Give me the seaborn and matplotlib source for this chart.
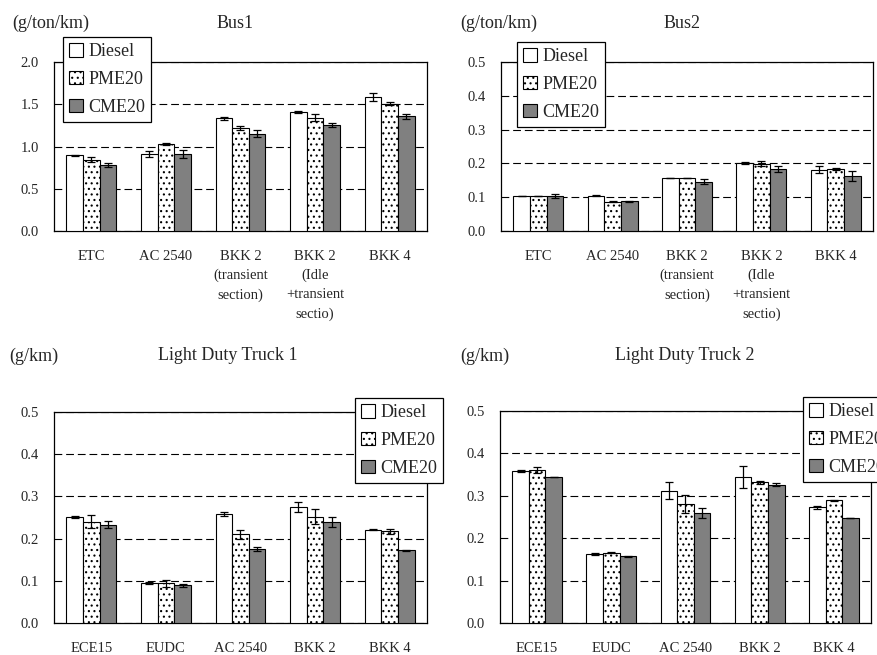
import numpy as np
import pandas as pd
import matplotlib
matplotlib.use("Agg")
import matplotlib.pyplot as plt
import seaborn as sns

sns.set_style("white")
plt.rcParams['font.family'] = ['Liberation Serif', 'DejaVu Serif']
plt.rcParams['hatch.linewidth'] = 0.8

fuels = ["Diesel", "PME20", "CME20"]
fuel_colors = ["#ffffff", "#ffffff", "#808080"]

bus_cycles = ["ETC", "AC 2540", "BKK 2\n(transient\nsection)",
              "BKK 2\n(Idle\n+transient\nsectio)", "BKK 4"]
ldt_cycles = ["ECE15", "EUDC", "AC 2540", "BKK 2", "BKK 4"]

# Bus1 (g/ton/km)
bus1_diesel = [0.895, 0.91, 1.333, 1.408, 1.586]
bus1_pme = [0.845, 1.03, 1.223, 1.341, 1.507]
bus1_cme = [0.785, 0.91, 1.152, 1.250, 1.357]
bus1_diesel_err = [0.006, 0.04, 0.015, 0.015, 0.05]
bus1_pme_err = [0.03, 0.01, 0.025, 0.04, 0.015]
bus1_cme_err = [0.025, 0.05, 0.04, 0.025, 0.03]

# Bus2 (g/ton/km)
bus2_diesel = [0.1035, 0.1045, 0.157, 0.201, 0.181]
bus2_pme = [0.1035, 0.087, 0.157, 0.199, 0.183]
bus2_cme = [0.1045, 0.088, 0.146, 0.184, 0.163]
bus2_diesel_err = [0.001, 0.002, 0.0005, 0.004, 0.010]
bus2_pme_err = [0.001, 0.001, 0.001, 0.008, 0.003]
bus2_cme_err = [0.006, 0.002, 0.008, 0.008, 0.015]

# Light Duty Truck 1 (g/km)
ldt1_diesel = [0.252, 0.095, 0.259, 0.275, 0.221]
ldt1_pme = [0.240, 0.094, 0.210, 0.252, 0.217]
ldt1_cme = [0.233, 0.089, 0.175, 0.240, 0.172]
ldt1_diesel_err = [0.002, 0.003, 0.005, 0.012, 0.001]
ldt1_pme_err = [0.015, 0.008, 0.011, 0.018, 0.005]
ldt1_cme_err = [0.009, 0.004, 0.004, 0.012, 0.002]

# Light Duty Truck 2 (g/km)
ldt2_diesel = [0.359, 0.163, 0.312, 0.344, 0.273]
ldt2_pme = [0.361, 0.166, 0.281, 0.332, 0.289]
ldt2_cme = [0.344, 0.157, 0.260, 0.326, 0.248]
ldt2_diesel_err = [0.003, 0.003, 0.020, 0.026, 0.004]
ldt2_pme_err = [0.008, 0.001, 0.022, 0.003, 0.001]
ldt2_cme_err = [0.0005, 0.001, 0.012, 0.004, 0.0005]

W, H = 878, 655
fig = plt.figure(figsize=(W / 100, H / 100), dpi=100)


def rect(l, t, r, b):
    return [l / W, 1 - b / H, (r - l) / W, (b - t) / H]


def panel(box, cycles, vals, errs, ymax, ystep, title, unit, title_xy, unit_xy, leg_xy):
    ax = fig.add_axes(rect(*box))
    df = pd.DataFrame({
        "cycle": np.tile(cycles, 3),
        "fuel": np.repeat(fuels, len(cycles)),
        "value": np.concatenate(vals),
    })
    sns.barplot(data=df, x="cycle", y="value", hue="fuel", order=cycles,
                hue_order=fuels, palette=fuel_colors, edgecolor="black",
                linewidth=0.8, errorbar=None, width=0.67, gap=0, ax=ax,
                legend=False, zorder=3)
    for bar in ax.containers[1]:
        bar.set_hatch("...")
    for cont, err in zip(ax.containers, errs):
        xs = [b.get_x() + b.get_width() / 2 for b in cont]
        ys = [b.get_height() for b in cont]
        ax.errorbar(xs, ys, yerr=err, fmt="none", ecolor="black",
                    elinewidth=0.9, capsize=3, capthick=0.9, zorder=4)
    ax.set_xlim(-0.5, len(cycles) - 0.5)
    ax.set_ylim(0, ymax)
    ticks = np.arange(0, ymax + ystep / 2, ystep)
    ax.set_yticks(ticks)
    ax.set_yticklabels([f"{v:.1f}" for v in ticks])
    ax.set_xticks(range(len(cycles)))
    ax.set_xticklabels(cycles, linespacing=1.6)
    ax.set_xticks(np.arange(0.5, len(cycles) - 0.5, 1), minor=True)
    ax.tick_params(axis="x", which="major", length=0, pad=13.5, labelsize=10.5)
    ax.tick_params(axis="x", which="minor", direction="in", length=3.5, width=0.8)
    ax.tick_params(axis="y", length=0, pad=11, labelsize=10.5)
    ax.set_xlabel("")
    ax.set_ylabel("")
    ax.set_axisbelow(True)
    ax.yaxis.grid(True, color="black", linestyle=(0, (7, 3.5)), linewidth=0.8)
    for s in ax.spines.values():
        s.set_visible(True)
        s.set_color("black")
        s.set_linewidth(0.9)
    fig.text(title_xy[0] / W, 1 - title_xy[1] / H, title, ha="center",
             va="center", fontsize=13)
    fig.text(unit_xy[0] / W, 1 - unit_xy[1] / H, unit, ha="left",
             va="center", fontsize=13)
    leg = ax.legend(handles=list(ax.containers), labels=fuels,
                    loc="upper left",
                    bbox_to_anchor=(leg_xy[0] / W, 1 - leg_xy[1] / H),
                    bbox_transform=fig.transFigure, borderaxespad=0,
                    fontsize=13, frameon=True, fancybox=False,
                    handlelength=0.75, handleheight=0.75, handletextpad=0.3,
                    labelspacing=0.6, borderpad=0.35, framealpha=1)
    leg.get_frame().set_edgecolor("black")
    leg.get_frame().set_linewidth(0.9)
    return ax


panel((54, 62, 427, 231), bus_cycles,
      [bus1_diesel, bus1_pme, bus1_cme],
      [bus1_diesel_err, bus1_pme_err, bus1_cme_err],
      2.0, 0.5, "Bus1", "(g/ton/km)", (235, 23), (12, 23), (63, 37))
panel((501, 62, 873, 231), bus_cycles,
      [bus2_diesel, bus2_pme, bus2_cme],
      [bus2_diesel_err, bus2_pme_err, bus2_cme_err],
      0.5, 0.1, "Bus2", "(g/ton/km)", (682, 23), (460, 23), (517, 42))
panel((54, 412, 427, 623), ldt_cycles,
      [ldt1_diesel, ldt1_pme, ldt1_cme],
      [ldt1_diesel_err, ldt1_pme_err, ldt1_cme_err],
      0.5, 0.1, "Light Duty Truck 1", "(g/km)", (228, 356), (9, 356), (355, 398))
panel((500, 411, 871, 623), ldt_cycles,
      [ldt2_diesel, ldt2_pme, ldt2_cme],
      [ldt2_diesel_err, ldt2_pme_err, ldt2_cme_err],
      0.5, 0.1, "Light Duty Truck 2", "(g/km)", (685, 356), (460, 356), (803, 397))

fig.savefig("out.png", dpi=100)
